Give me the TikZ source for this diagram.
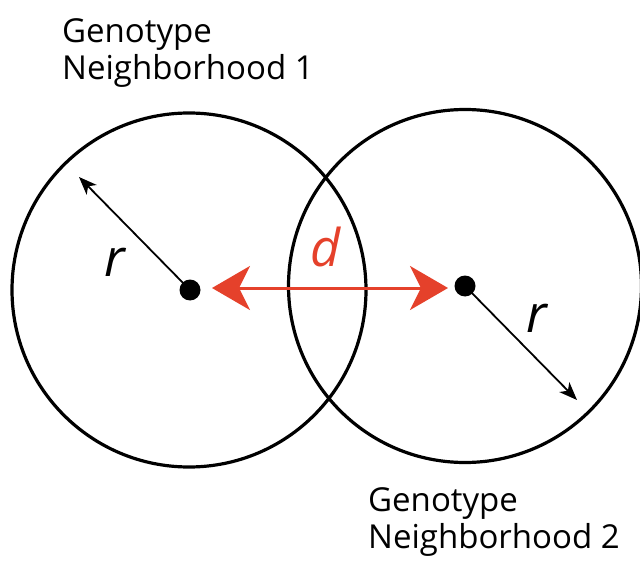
\documentclass[tikz,border=0pt]{standalone}
\usepackage{fontspec}
\setmainfont{Open Sans}
\usetikzlibrary{arrows.meta}
\definecolor{dred}{HTML}{E5412B}
\tikzset{
  hood/.style={circle, draw=black, line width=3.2pt, inner sep=0pt, minimum size=#1},
  centre/.style={circle, fill=black, inner sep=0pt, minimum size=21pt},
  radius arrow/.style={line width=1.8pt, -{Stealth[length=18pt,width=14pt,inset=5pt]}},
  dist arrow/.style={draw=dred, line width=3pt, {Stealth[length=38pt,width=44pt,inset=11pt]}-{Stealth[length=38pt,width=44pt,inset=11pt]}},
  label text/.style={font=\fontsize{33}{37}\selectfont, align=left, inner sep=0pt, anchor=base west},
  symbol/.style={font=\fontsize{52}{52}\selectfont\itshape, inner sep=0pt}
}
\begin{document}
\begin{tikzpicture}[x=1pt, y=-1pt]
\useasboundingbox (0,0) rectangle (640,564);
\node[hood=354pt] (c1) at (189,290) {};
\node[hood=353pt] (c2) at (465,286) {};
\node[centre] (p1) at (190,290) {};
\node[centre] (p2) at (465,286) {};
\coordinate (t1) at (79,177);
\coordinate (t2) at (577,400);
\coordinate (a1) at (212,288);
\coordinate (a2) at (448,288);
\draw[radius arrow] (p1.center) -- (t1);
\draw[radius arrow] (p2.center) -- (t2);
\draw[dist arrow] (a1) -- (a2);
\node[symbol, text=dred] (d) at (326,247) {d};
\node[symbol] (r1) at (115,262) {r};
\node[symbol] (r2) at (537,318) {r};
\node[label text] (l1) at (62,80) {Genotype\\Neighborhood 1};
\node[label text] (l2) at (368,548) {Genotype\\Neighborhood 2};
\end{tikzpicture}
\end{document}
